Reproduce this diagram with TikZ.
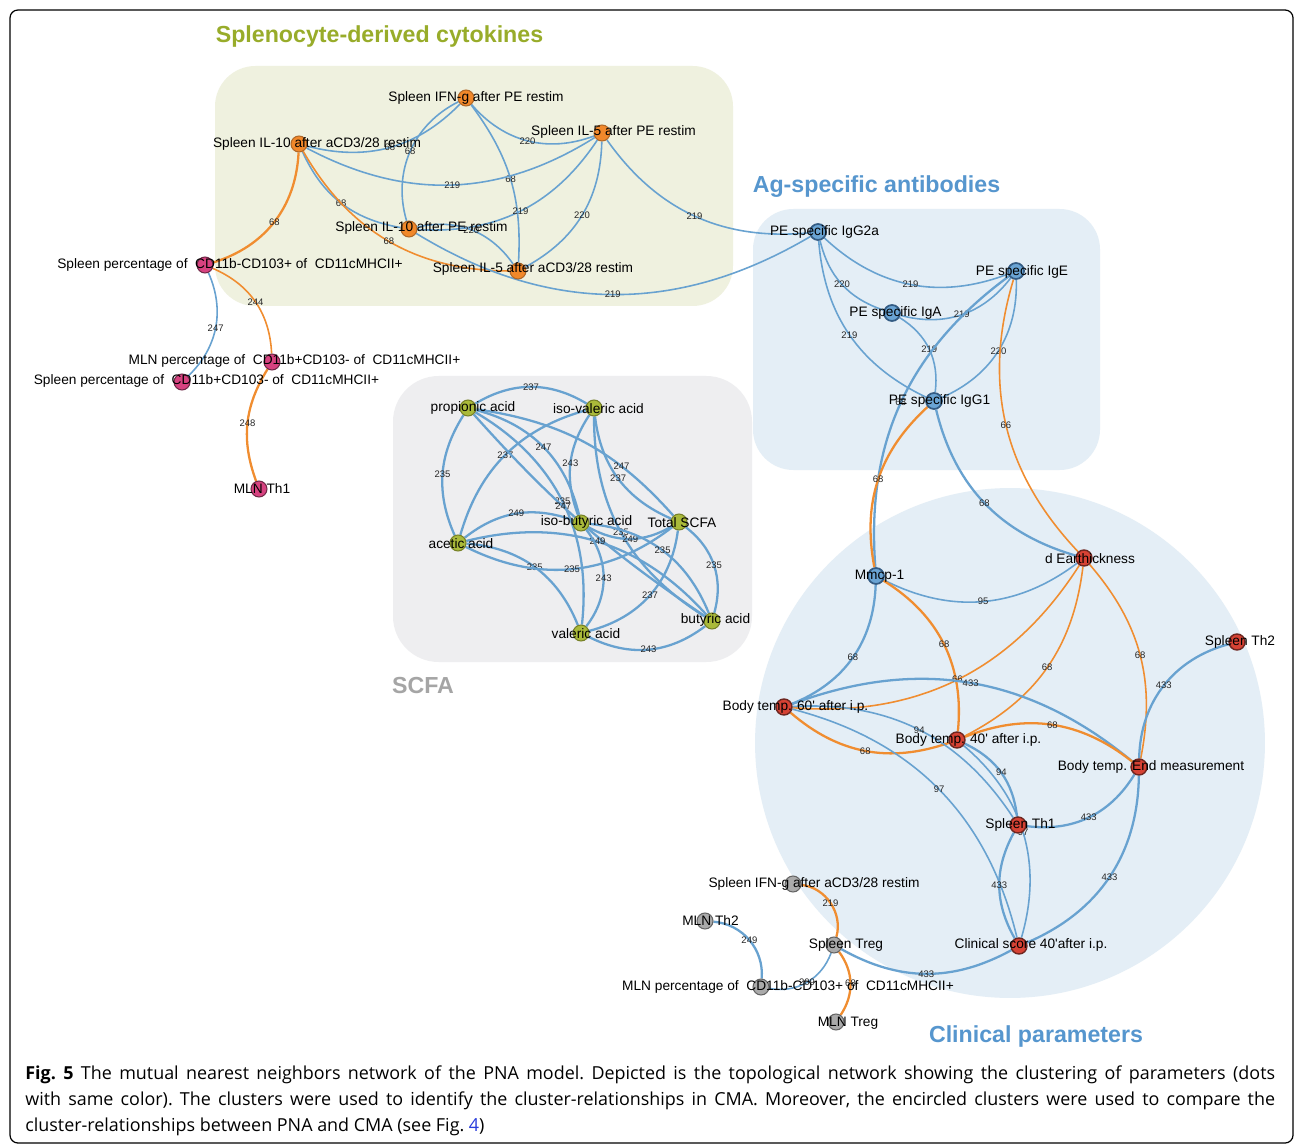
\documentclass[tikz,border=0pt]{standalone}
\usepackage{fontspec}
\setmainfont{Liberation Sans}
\newfontfamily\capfont{Open Sans}
\usetikzlibrary{calc}

\definecolor{edgeblue}{RGB}{104,162,208}
\definecolor{edgeorange}{RGB}{240,141,48}
\definecolor{cytobg}{RGB}{239,241,223}
\definecolor{abbg}{RGB}{228,238,246}
\definecolor{scfabg}{RGB}{238,238,240}
\definecolor{cytotitle}{RGB}{152,172,42}
\definecolor{bluetitle}{RGB}{86,150,206}
\definecolor{greytitle}{RGB}{165,165,165}
\definecolor{linkblue}{RGB}{40,60,220}

\pgfdeclarelayer{bg}
\pgfdeclarelayer{edges}
\pgfsetlayers{bg,edges,main}

\begin{document}
\begin{tikzpicture}[x=0.02cm,y=-0.02cm,
    vtx/.style={circle,minimum size=0.32cm,inner sep=0pt,line width=0.6pt},
    cyto/.style={vtx,fill={rgb,255:red,241;green,136;blue,42},draw={rgb,255:red,176;green,104;blue,40}},
    pink/.style={vtx,fill={rgb,255:red,215;green,66;blue,128},draw={rgb,255:red,110;green,40;blue,70}},
    acid/.style={vtx,fill={rgb,255:red,170;green,186;blue,58},draw={rgb,255:red,118;green,128;blue,40}},
    ab/.style={vtx,fill={rgb,255:red,106;green,164;blue,212},draw={rgb,255:red,52;green,92;blue,132},line width=1pt},
    clin/.style={vtx,fill={rgb,255:red,214;green,66;blue,52},draw={rgb,255:red,110;green,38;blue,32},line width=0.8pt},
    grey/.style={vtx,fill={rgb,255:red,170;green,170;blue,170},draw={rgb,255:red,100;green,100;blue,100}},
    txt/.style={font=\fontsize{7.8}{9}\selectfont,inner sep=0pt},
    el/.style={font=\fontsize{5.4}{6}\selectfont,inner sep=0pt,text=black!85},
    ttl/.style={font=\fontsize{13.2}{15}\selectfont\bfseries,inner sep=0pt},
    capline/.style={anchor=base west,inner sep=0pt,font=\capfont\fontsize{10.2}{14}\selectfont\frenchspacing},
    bl/.style={draw=edgeblue,line width=0.9pt},
    og/.style={draw=edgeorange,line width=0.9pt},
    heavy/.style={line width=1.3pt}]
  \useasboundingbox (0,0) rectangle (1295,1145);

  \begin{pgfonlayer}{bg}
    \fill[white] (0,0) rectangle (1295,1145);
    \draw[line width=0.7pt,rounded corners=4.5pt] (10,10) rectangle (1293,1143);
    \fill[cytobg,rounded corners=23pt] (215,66) rectangle (733,306);
    \fill[abbg,rounded corners=23pt] (753,209) rectangle (1100,470);
    \fill[scfabg,rounded corners=26pt] (393,376) rectangle (752,662);
    \fill[abbg] (1010,743) circle[radius=5.1cm];
  \end{pgfonlayer}

  \node[ttl,text=cytotitle] (cytotitle) at (379.5,37) {Splenocyte-derived cytokines};
  \node[ttl,text=bluetitle] (abtitle) at (876.5,187) {Ag-specific antibodies};
  \node[ttl,text=greytitle] (scfatitle) at (423,686) {SCFA};
  \node[ttl,text=bluetitle] (clintitle) at (1036,1036) {Clinical parameters};

  \node[cyto] (ifnpe) at (466,98) {};
  \node[cyto] (ilfivepe) at (602,133) {};
  \node[cyto] (iltena) at (299,144) {};
  \node[cyto] (iltenpe) at (409,229) {};
  \node[cyto] (ilfivea) at (518,271) {};
  \node[pink] (spcdneg) at (205,265) {};
  \node[pink] (mlncdpos) at (272,362) {};
  \node[pink] (spcdpos) at (182,382) {};
  \node[pink] (mlnthone) at (259,489) {};

  \node[acid] (prop) at (468,408) {};
  \node[acid] (isoval) at (594,408) {};
  \node[acid] (isobut) at (581,523) {};
  \node[acid] (total) at (679,522) {};
  \node[acid] (acetic) at (458,543) {};
  \node[acid] (butyric) at (712,621) {};
  \node[acid] (valeric) at (581,633) {};

  \node[ab] (igga) at (818,232) {};
  \node[ab] (ige) at (1016,271) {};
  \node[ab] (iga) at (892,313) {};
  \node[ab] (iggone) at (934,401) {};

  \node[ab] (mmcp) at (876,576) {};
  \node[clin] (ear) at (1084,558) {};
  \node[clin] (thtwo) at (1237,642) {};
  \node[clin] (bodysixty) at (784,707) {};
  \node[clin] (bodyforty) at (957,740) {};
  \node[clin] (bodyend) at (1139,767) {};
  \node[clin] (thone) at (1018,825) {};
  \node[clin] (clinscore) at (1019,946) {};

  \node[grey] (ifna) at (793,884) {};
  \node[grey] (mlnthtwo) at (705,921) {};
  \node[grey] (treg) at (834,945) {};
  \node[grey] (mlncdneg) at (761,987) {};
  \node[grey] (mlntreg) at (836,1022) {};

  \begin{pgfonlayer}{edges}
    \draw[bl] (iltena) to[bend right=30] node[el]{68} (ifnpe);
    \draw[bl] (ifnpe) to[bend right=40] node[el]{68} (iltenpe);
    \draw[bl] (ifnpe) to[bend right=35] node[el]{220} (ilfivepe);
    \draw[bl] (ifnpe) to[bend left=20] node[el]{68} (ilfivea);
    \draw[bl] (iltena) to[bend right=30] node[el]{219} (ilfivepe);
    \draw[bl] (ilfivepe) to[bend left=30] node[el]{219} (iltenpe);
    \draw[bl] (ilfivepe) to[bend left=30] node[el]{220} (ilfivea);
    \draw[bl] (ilfivepe) to[bend right=30] node[el]{219} (igga);
    \draw[bl] (iltena) to[bend right=28] node[el]{68} (iltenpe);
    \draw[og] (iltena) to[bend right=30] node[el]{68} (ilfivea);
    \draw[bl] (iltenpe) to[bend left=34] node[el]{220} (ilfivea);
    \draw[bl] (iltenpe) to[bend right=31] node[el]{219} (igga);
    \draw[og,heavy] (iltena) to[bend left=35] node[el]{68} (spcdneg);
    \draw[og] (spcdneg) to[bend left=32] node[el]{244} (mlncdpos);
    \draw[bl] (spcdneg) to[bend left=35] node[el]{247} (spcdpos);
    \draw[og,heavy] (mlncdpos) to[bend right=26] node[el]{248} (mlnthone);

    \draw[bl,heavy] (prop) to[bend left=31] node[el]{237} (isoval);
    \draw[bl,heavy] (prop) to[bend right=28] node[el]{235} (acetic);
    \draw[bl,heavy] (isoval) to[bend right=29] node[el]{237} (acetic);
    \draw[bl,heavy] (prop) to[bend left=31] node[el]{247} (isobut);
    \draw[bl,heavy] (isoval) to[bend right=27] node[el]{243} (isobut);
    \draw[bl,heavy] (prop) to[bend left=33] node[el]{235} (valeric);
    \draw[bl,heavy] (prop) to[bend right=7] node[el,pos=.41]{247} (butyric);
    \draw[bl,heavy] (isoval) to[bend right=30] node[el]{237} (total);
    \draw[bl,heavy] (prop) to[bend left=20] node[el,pos=.7]{247} (total);
    \draw[bl,heavy] (isoval) to[bend right=29] node[el]{235} (butyric);
    \draw[bl,heavy] (acetic) to[bend left=29] node[el]{249} (isobut);
    \draw[bl,heavy] (isobut) to[bend right=30] node[el]{249} (total);
    \draw[bl,heavy] (acetic) to[bend left=31] node[el]{249} (butyric);
    \draw[bl,heavy] (isobut) to[bend left=31] node[el]{235} (butyric);
    \draw[bl,heavy] (acetic) to[bend left=32] node[el]{235} (valeric);
    \draw[bl,heavy] (acetic) to[bend right=32] node[el]{235} (total);
    \draw[bl,heavy] (isobut) to[bend left=38] node[el]{243} (valeric);
    \draw[bl,heavy] (total) to[bend left=34] node[el]{237} (valeric);
    \draw[bl,heavy] (total) to[bend left=34] node[el]{235} (butyric);
    \draw[bl,heavy] (valeric) to[bend right=32] node[el]{243} (butyric);

    \draw[bl] (igga) to[bend right=32] node[el]{219} (ige);
    \draw[bl] (igga) to[bend right=29] node[el]{220} (iga);
    \draw[bl] (igga) to[bend right=30] node[el]{219} (iggone);
    \draw[bl] (iga) to[bend right=34] node[el]{219} (ige);
    \draw[bl] (iga) to[bend left=33] node[el]{219} (iggone);
    \draw[bl] (ige) to[bend left=34] node[el]{220} (iggone);
    \draw[bl,heavy] (ige) to[bend right=29] node[el]{68} (mmcp);
    \draw[og,heavy] (iggone) to[bend right=29] node[el]{68} (mmcp);
    \draw[og] (ige) to[bend right=30] node[el]{66} (ear);
    \draw[bl,heavy] (iggone) to[bend right=30] node[el]{68} (ear);

    \draw[bl] (mmcp) to[bend right=32] node[el]{95} (ear);
    \draw[og,heavy] (mmcp) to[bend left=32] node[el]{68} (bodyforty);
    \draw[bl,heavy] (mmcp) to[bend left=33] node[el]{68} (bodysixty);
    \draw[og] (ear) to[bend left=31] node[el]{66} (bodysixty);
    \draw[og] (ear) to[bend left=28] node[el]{68} (bodyforty);
    \draw[og] (ear) to[bend left=26] node[el]{68} (bodyend);
    \draw[bl,heavy] (thtwo) to[bend right=37] node[el]{433} (bodyend);
    \draw[bl,heavy] (bodysixty) to[bend left=30] node[el]{433} (bodyend);
    \draw[og,heavy] (bodysixty) to[bend right=30] node[el]{68} (bodyforty);
    \draw[bl] (bodysixty) to[bend left=30] node[el]{94} (thone);
    \draw[bl] (bodysixty) to[bend left=31] node[el]{97} (clinscore);
    \draw[bl,heavy] (bodyforty) to[bend left=29] node[el]{94} (thone);
    \draw[bl] (bodyforty) to[bend left=33] node[el]{97} (clinscore);
    \draw[og,heavy] (bodyforty) to[bend left=30] node[el]{68} (bodyend);
    \draw[bl,heavy] (thone) to[bend right=33] node[el]{433} (bodyend);
    \draw[bl,heavy] (thone) to[bend right=29] node[el]{433} (clinscore);
    \draw[bl,heavy] (bodyend) to[bend left=33] node[el]{433} (clinscore);
    \draw[bl,heavy] (clinscore) to[bend left=29] node[el]{433} (treg);
    \draw[og,heavy] (ifna) to[bend left=50] node[el]{219} (treg);
    \draw[og,heavy] (treg) to[bend left=35] node[el]{68} (mlntreg);
    \draw[bl] (treg) to[bend left=40] node[el]{209} (mlncdneg);
    \draw[bl,heavy] (mlnthtwo) to[bend left=45] node[el]{249} (mlncdneg);
  \end{pgfonlayer}

  \node[txt] (ifnpe-t) at (476,98) {Spleen IFN-g after PE restim};
  \node[txt] (ilfivepe-t) at (613.5,132) {Spleen IL-5 after PE restim};
  \node[txt] (iltena-t) at (317,144) {Spleen IL-10 after aCD3/28 restim};
  \node[txt] (iltenpe-t) at (421.5,228) {Spleen IL-10 after PE restim};
  \node[txt] (ilfivea-t) at (533,269) {Spleen IL-5 after aCD3/28 restim};
  \node[txt] (spcdneg-t) at (230,265) {Spleen percentage of\ \ CD11b-CD103+ of\ \ CD11cMHCII+};
  \node[txt] (mlncdpos-t) at (294.5,361) {MLN percentage of\ \ CD11b+CD103- of\ \ CD11cMHCII+};
  \node[txt] (spcdpos-t) at (206.5,381) {Spleen percentage of\ \ CD11b+CD103- of\ \ CD11cMHCII+};
  \node[txt] (mlnthone-t) at (262,489) {MLN Th1};

  \node[txt] (prop-t) at (473,408) {propionic acid};
  \node[txt] (isoval-t) at (598.5,409) {iso-valeric acid};
  \node[txt] (isobut-t) at (586.5,522) {iso-butyric acid};
  \node[txt] (total-t) at (682,523) {Total SCFA};
  \node[txt] (acetic-t) at (461,544) {acetic acid};
  \node[txt] (butyric-t) at (715.5,620) {butyric acid};
  \node[txt] (valeric-t) at (586,634) {valeric acid};

  \node[txt] (igga-t) at (824.5,232) {PE specific IgG2a};
  \node[txt] (ige-t) at (1022,272) {PE specific IgE};
  \node[txt] (iga-t) at (895.5,313) {PE specific IgA};
  \node[txt] (iggone-t) at (939.5,401) {PE specific IgG1};

  \node[txt] (mmcp-t) at (879.5,576) {Mmcp-1};
  \node[txt] (ear-t) at (1090,559) {d Earthickness};
  \node[txt] (thtwo-t) at (1240,642) {Spleen Th2};
  \node[txt] (bodysixty-t) at (795.5,707) {Body temp. 60\textquotesingle\ after i.p.};
  \node[txt] (bodyforty-t) at (968.5,740) {Body temp. 40\textquotesingle\ after i.p.};
  \node[txt] (bodyend-t) at (1151,767) {Body temp. End measurement};
  \node[txt] (thone-t) at (1020.5,825) {Spleen Th1};
  \node[txt] (clinscore-t) at (1031,945) {Clinical score 40\textquotesingle after i.p.};

  \node[txt] (ifna-t) at (814,884) {Spleen IFN-g after aCD3/28 restim};
  \node[txt] (mlnthtwo-t) at (710.5,921) {MLN Th2};
  \node[txt] (treg-t) at (846,945) {Spleen Treg};
  \node[txt] (mlncdneg-t) at (788,987) {MLN percentage of\ \ CD11b-CD103+ of\ \ CD11cMHCII+};
  \node[txt] (mlntreg-t) at (848,1023) {MLN Treg};

  \node[capline] (capone) at (25,1079)
    {\makebox[25cm][s]{\textbf{Fig. 5} The mutual nearest neighbors network of the PNA model. Depicted is the topological network showing the clustering of parameters (dots}};
  \node[capline] (captwo) at (25,1105)
    {\makebox[25cm][s]{with same color). The clusters were used to identify the cluster-relationships in CMA. Moreover, the encircled clusters were used to compare the}};
  \node[capline] (capthree) at (25,1131)
    {cluster-relationships between PNA and CMA (see Fig. \textcolor{linkblue}{4})};
\end{tikzpicture}
\end{document}
